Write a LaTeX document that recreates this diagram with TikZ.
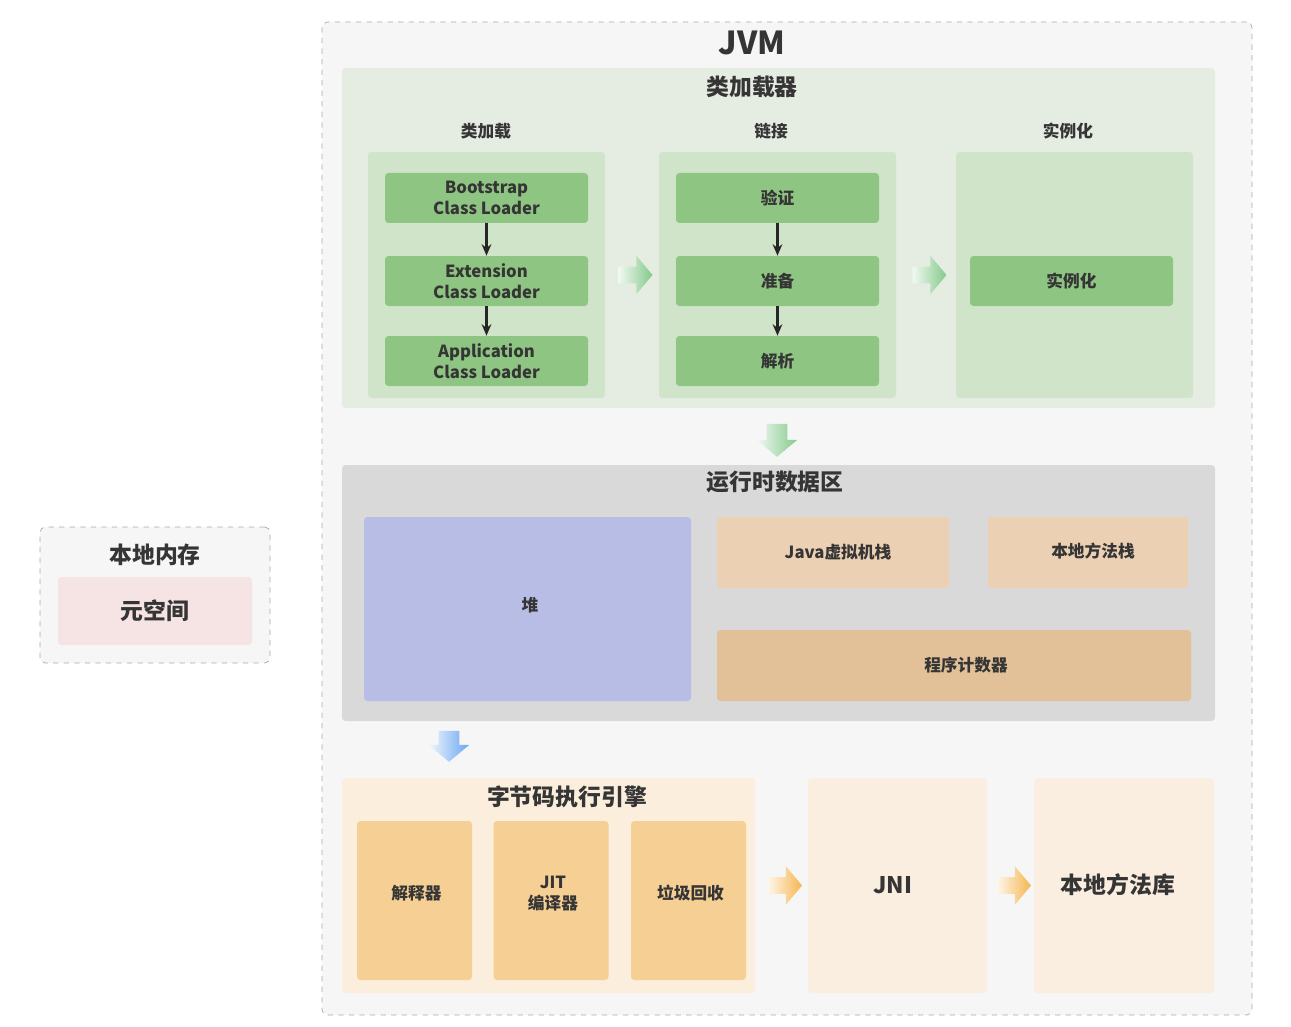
\documentclass[tikz,border=0pt]{standalone}
\usepackage{fontspec}
\setmainfont{Noto Sans CJK SC}
\usepackage{tikz}
\usetikzlibrary{positioning,calc,arrows.meta,shapes.arrows}
\newlength\pxu
\setlength\pxu{0.02cm}
\definecolor{textgray}{HTML}{353535}
\definecolor{jvmbg}{HTML}{F7F6F6}
\definecolor{dashgray}{HTML}{A9A9A9}
\definecolor{loaderbg}{HTML}{E5EDE3}
\definecolor{colbg}{HTML}{CFE4C9}
\definecolor{boxgreen}{HTML}{8EC582}
\definecolor{runtimebg}{HTML}{D9D9D9}
\definecolor{heapbg}{HTML}{B8BDE6}
\definecolor{stackbg}{HTML}{ECD0B3}
\definecolor{pcbg}{HTML}{E3C198}
\definecolor{enginebg}{HTML}{FBEEDC}
\definecolor{enginebox}{HTML}{F6CF94}
\definecolor{jnibg}{HTML}{FAEEE0}
\definecolor{metabg}{HTML}{F5E4E3}
\definecolor{flowgreen}{HTML}{84C98A}
\definecolor{flowblue}{HTML}{6AA6F0}
\definecolor{floworange}{HTML}{F5B651}
\tikzset{%
  every area/.style={
    rectangle,
    draw=dashgray,
    dashed,
    fill=jvmbg,
    rounded corners=3pt,
    inner sep=0pt
  },
  panel/.style={
    rectangle,
    draw=none,
    rounded corners=2pt,
    inner sep=0pt
  },
  celltext/.style={
    text=textgray,
    align=center,
    inner sep=0pt,
    font=\fontsize{9.5}{12}\selectfont\bfseries
  },
  cell/.style={
    panel,
    celltext
  },
  greenbox/.style={
    cell,
    fill=boxgreen,
    minimum width=203\pxu,
    minimum height=50\pxu
  },
  paneltitle/.style={
    text=textgray,
    inner sep=0pt,
    font=\fontsize{13}{15}\selectfont\bfseries
  },
  collabel/.style={
    text=textgray,
    inner sep=0pt,
    font=\fontsize{9.5}{12}\selectfont\bfseries
  },
  smallarrow/.style={
    -{Stealth[length=6.5pt,width=5.5pt]},
    line width=1.2pt,
    draw=black!85
  },
  flow right/.style={
    single arrow,
    draw=none,
    inner xsep=0pt,
    inner ysep=8\pxu,
    minimum height=34\pxu,
    single arrow head extend=11\pxu,
    single arrow tip angle=100
  },
  flow down/.style={
    flow right,
    rotate=-90,
    inner ysep=10\pxu,
    minimum height=33\pxu,
    single arrow head extend=10\pxu
  },
}

\begin{document}
\begin{tikzpicture}[x=0.02cm, y=-0.02cm, >=Stealth]
\useasboundingbox (0,0) rectangle (1291,1027);

% JVM
\node [every area, minimum width=930\pxu, minimum height=993\pxu] (jvm) at (787,518.5) {};
\node [paneltitle, font=\fontsize{18}{22}\selectfont\bfseries] (jvm-title) at (752,43) {JVM};

% class loader
\node [panel, fill=loaderbg, minimum width=873\pxu, minimum height=340\pxu] (loader) at (778.5,238) {};
\node [paneltitle] (loader-title) at (752,87) {类加载器};

\foreach \t/\x/\lx [count=\i] in {类加载/486.5/486, 链接/777.5/771, 实例化/1074.5/1068} {
  \node [panel, fill=colbg, minimum width=237\pxu, minimum height=246\pxu] (col-\i) at (\x,275) {};
  \node [collabel] (col-label-\i) at (\lx,131) {\t};
}

\foreach \t/\y [count=\i] in {{Bootstrap\\Class Loader}/198, {Extension\\Class Loader}/281, {Application\\Class Loader}/361}
  \node [greenbox] (load-\i) at (486.5,\y) {\t};

\foreach \t/\y [count=\i] in {验证/198, 准备/281, 解析/361}
  \node [greenbox] (link-\i) at (777.5,\y) {\t};

\node [greenbox] (inst) at (1071.5,281) {实例化};

\foreach \i/\j in {1/2,2/3} {
  \draw [smallarrow] (load-\i) -- (load-\j);
  \draw [smallarrow] (link-\i) -- (link-\j);
}

\node [flow right, left color=flowgreen!12, right color=flowgreen] (flow-1) at ($(col-1.east)!0.5!(col-2.west)$) {};
\node [flow right, left color=flowgreen!12, right color=flowgreen] (flow-2) at ($(col-2.east)!0.5!(col-3.west)$) {};
\node [flow down, left color=flowgreen!12, right color=flowgreen] (flow-3) at (777,436) {};

% runtime data area
\node [panel, fill=runtimebg, minimum width=873\pxu, minimum height=256\pxu] (runtime) at (778.5,593) {};
\node [paneltitle] (runtime-title) at (775,482) {运行时数据区};

\node [cell, fill=heapbg, minimum width=327\pxu, minimum height=184\pxu] (heap) at (527.5,609)
  {}; \node [celltext] (heap-text) at (530,605) {堆};
\node [cell, fill=stackbg, minimum width=232\pxu, minimum height=71\pxu] (jvm-stack) at (833,552.5) {};
\node [celltext] (jvm-stack-text) at (838,552.5) {Java虚拟机栈};
\node [cell, fill=stackbg, minimum width=200\pxu, minimum height=71\pxu] (native-stack) at (1088,552.5) {};
\node [celltext] (native-stack-text) at (1093,551) {本地方法栈};
\node [cell, fill=pcbg, minimum width=474\pxu, minimum height=71\pxu] (pc) at (954,665.5) {};
\node [celltext] (pc-text) at (966,665.5) {程序计数器};

\node [flow down, left color=flowblue!10, right color=flowblue, minimum height=31\pxu] (flow-4) at (449,742) {};

% execution engine
\node [panel, fill=enginebg, minimum width=413\pxu, minimum height=215\pxu] (engine) at (548.5,885.5) {};
\node [paneltitle] (engine-title) at (567,797) {字节码执行引擎};

\foreach \t/\x [count=\i] in {解释器/414.5, {JIT\\编译器}/551, 垃圾回收/688.5} {
  \node [cell, fill=enginebox, minimum width=115\pxu, minimum height=159\pxu] (engine-\i) at (\x,900.5) {};
  \node [celltext] (engine-text-\i) at ([xshift=2\pxu, yshift=7\pxu]engine-\i.center) {\t};
}

\node [panel, fill=jnibg, minimum width=179\pxu, minimum height=215\pxu] (jni) at (897.5,885.5) {};
\node [paneltitle] (jni-text) at (893,885) {JNI};
\node [panel, fill=jnibg, minimum width=180\pxu, minimum height=215\pxu] (lib) at (1124,885.5) {};
\node [paneltitle] (lib-text) at (1118,885) {本地方法库};

\node [flow right, left color=floworange!12, right color=floworange] (flow-5) at ($(engine.east)!0.5!(jni.west)$) {};
\node [flow right, left color=floworange!12, right color=floworange] (flow-6) at ($(jni.east)!0.5!(lib.west)$) {};

% native memory
\node [every area, minimum width=230\pxu, minimum height=136\pxu] (native) at (155,595) {};
\node [paneltitle] (native-title) at (155,555) {本地内存};
\node [panel, fill=metabg, minimum width=194\pxu, minimum height=68\pxu] (meta) at (155,611) {};
\node [paneltitle] (meta-text) at (155,611) {元空间};

\end{tikzpicture}
\end{document}
